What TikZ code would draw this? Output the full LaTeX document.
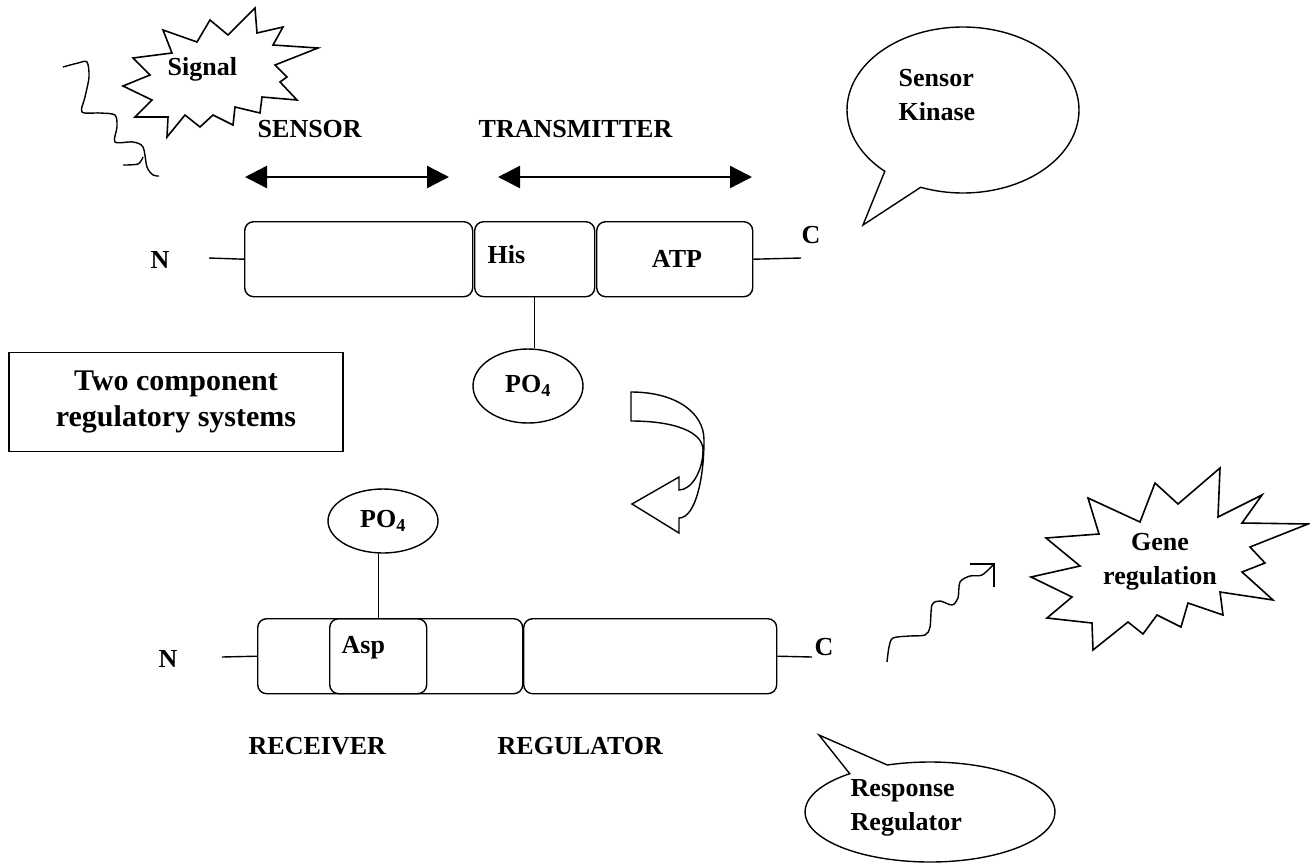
\documentclass[tikz,border=0pt]{standalone}
\usepackage{fontspec}
\setmainfont{Liberation Serif}
\usetikzlibrary{shapes.geometric,shapes.callouts,arrows.meta}

\begin{document}
\begin{tikzpicture}[x=1pt, y=-1pt, line width=1.4pt,
		lbl/.style={font=\bfseries\fontsize{26}{34}\selectfont, inner sep=0pt},
		dombox/.style={draw, rounded corners=9pt, minimum height=75, anchor=north west, inner sep=0pt},
		phos/.style={draw, ellipse, inner sep=0pt, font=\bfseries\fontsize{26}{30}\selectfont},
		bubble/.style={draw, ellipse callout, callout pointer arc=21, inner sep=0pt},
		span/.style={line width=2.4pt, {Triangle[length=22pt,width=22pt]}-{Triangle[length=22pt,width=22pt]}},
		burst/.style={line width=1.6pt, line join=miter}
	]
		\useasboundingbox (0,0) rectangle (1310,863);

		% signal
		\draw[burst] (255,8) -- (257,33) -- (283,27) -- (273,45) -- (318,48) -- (275,65) -- (287,77) -- (280,82)
			-- (297,100) -- (262,97) -- (260,113) -- (235,107) -- (233,125) -- (213,115) -- (200,127) -- (185,115)
			-- (167,137) -- (168,117) -- (135,117) -- (152,100) -- (123,86) -- (150,75) -- (133,58) -- (172,53)
			-- (163,30) -- (197,42) -- (210,20) -- (228,35) -- cycle;
		\node[lbl, anchor=base west] (sigTxt) at (167,75) {Signal};
		\draw plot[smooth] coordinates {(63,67) (78,63) (87,62) (89,77) (85,97) (82,112) (100,113) (115,115)
			(117,127) (115,142) (133,142) (143,147) (147,167) (153,175) (159,176)};
		\draw plot[smooth] coordinates {(123,165) (138,164) (143,157)};

		% sensor kinase
		\node[lbl, anchor=base west] (sensTxt) at (257,137) {SENSOR};
		\node[lbl, anchor=base west] (tranTxt) at (478,137) {TRANSMITTER};
		\coordinate (sensL) at (245,177);
		\coordinate (sensR) at (449,177);
		\coordinate (tranL) at (498,177);
		\coordinate (tranR) at (752,177);
		\draw[span] (sensL) -- (sensR);
		\draw[span] (tranL) -- (tranR);

		\node[dombox, minimum width=228] (sens) at (244,221) {};
		\node[dombox, minimum width=120] (his) at (474,221) {};
		\node[dombox, minimum width=156] (atp) at (596,221) {};
		\node[lbl, anchor=base west] (hisTxt) at (487,263) {His};
		\node[lbl, anchor=base] (atpTxt) at (677,267) {ATP};

		\node[lbl, anchor=base west] (nTop) at (150,268) {N};
		\node[lbl, anchor=base west] (cTop) at (801,243) {C};
		\coordinate (nTopEnd) at (209,258);
		\coordinate (cTopEnd) at (801,258);
		\draw (nTopEnd) -- (sens.west);
		\draw (atp.east) -- (cTopEnd);

		\node[phos, minimum width=110, minimum height=74] (pTop) at (528,386) {PO\textsubscript{4}};
		\draw (his.south) -- (his.south |- pTop.north);

		\node[bubble, minimum width=232, minimum height=166, callout absolute pointer={(863,225)}] (kinBub) at (963,110) {};
		\node[lbl, align=left, anchor=north west] (kinTxt) at (898,69) {Sensor\\Kinase};

		% title
		\node[draw, line width=1.1pt, minimum width=334, minimum height=99, align=center,
			font=\bfseries\fontsize{30}{36}\selectfont] (title) at (176,402) {Two component\\ regulatory systems};

		% transfer
		\draw[line join=miter] (631,392) .. controls (675,392) and (704,412) .. (704,440)
			.. controls (704,480) and (695,518) .. (679,518) -- (679,533) -- (632,504) -- (679,477) -- (679,490)
			.. controls (692,490) and (703,470) .. (703,450) .. controls (703,432) and (675,421) .. (631,421) -- cycle;

		% response regulator
		\node[dombox, minimum width=265] (recv) at (257,618) {};
		\node[dombox, minimum width=97] (asp) at (329,618) {};
		\node[dombox, minimum width=253] (regl) at (523,618) {};
		\node[lbl, anchor=base west] (aspTxt) at (341,653) {Asp};

		\node[lbl, anchor=base west] (nBot) at (158,667) {N};
		\node[lbl, anchor=base west] (cBot) at (814,655) {C};
		\coordinate (nBotEnd) at (222,657);
		\coordinate (cBotEnd) at (812,657);
		\draw (nBotEnd) -- (recv.west);
		\draw (regl.east) -- (cBotEnd);

		\node[phos, minimum width=110, minimum height=64] (pBot) at (383,521) {PO\textsubscript{4}};
		\draw (asp.north |- pBot.south) -- (asp.north);

		\node[lbl, anchor=base west] (recvTxt) at (248,754) {RECEIVER};
		\node[lbl, anchor=base west] (reglTxt) at (497,754) {REGULATOR};

		\node[bubble, callout pointer arc=20, minimum width=250, minimum height=100, callout absolute pointer={(819,735)}] (respBub) at (930,812) {};
		\node[lbl, align=left, anchor=north west] (respTxt) at (850,779) {Response\\Regulator};

		% gene regulation
		\draw plot[smooth] coordinates {(887,662) (889,647) (893,638) (910,636) (925,635) (930,627) (932,605)
			(940,601) (952,605) (958,598) (960,582) (970,576) (982,575) (994,564)};
		\coordinate (geneArr) at (994,564);
		\draw (970,564) -- (geneArr) -- (994,587);
		\draw[burst] (1220,468) -- (1218,517) -- (1262,495) -- (1242,523) -- (1308,524) -- (1250,547) -- (1265,563)
			-- (1242,572) -- (1273,600) -- (1220,592) -- (1223,615) -- (1188,603) -- (1181,627) -- (1157,615)
			-- (1143,634) -- (1128,622) -- (1093,650) -- (1092,623) -- (1047,618) -- (1072,597) -- (1031,577)
			-- (1080,566) -- (1046,538) -- (1099,534) -- (1088,498) -- (1140,522) -- (1155,483) -- (1178,504) -- cycle;
		\node[lbl, align=center, anchor=north] (geneTxt) at (1160,533) {Gene\\regulation};
	\end{tikzpicture}
\end{document}
